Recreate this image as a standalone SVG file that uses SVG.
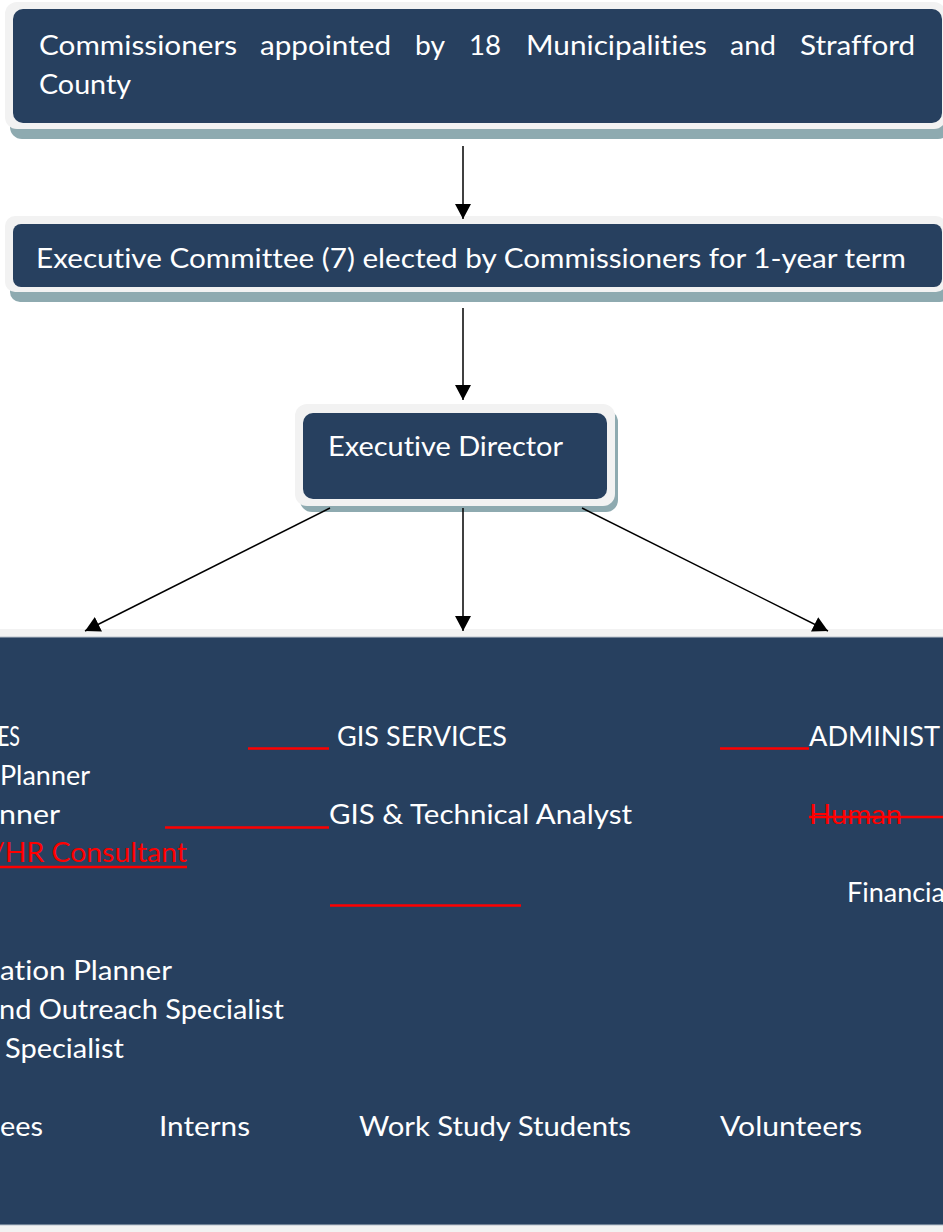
<svg xmlns="http://www.w3.org/2000/svg" width="943" height="1232" viewBox="0 0 943 1232">
<style>
.shadow{fill:#8eaab0}
.rim{fill:#f2f2f2}
.fill{fill:#27405f}
.t{font-family:Lato,"Open Sans","Liberation Sans",sans-serif;font-size:27px;fill:#ffffff;font-variant-ligatures:none}
.r{fill:#ff0000}
.redline{stroke:#ff0000;stroke-width:2.5;fill:none}
.conn{stroke:#000000;stroke-width:1.5;fill:none;marker-end:url(#arrow)}
</style>
<defs>
<marker id="arrow" markerUnits="userSpaceOnUse" markerWidth="15" markerHeight="16" refX="15" refY="8" orient="auto">
<path d="M0,0 L15,8 L0,16 z" fill="#000000"/>
</marker>
</defs>
<rect x="0" y="0" width="943" height="1232" fill="#ffffff"/>

<g id="commissioners">
<rect class="shadow" x="10" y="10" width="940" height="129" rx="12"/>
<rect class="rim" x="5" y="2" width="941" height="127" rx="12"/>
<rect class="fill" x="13" y="9" width="929" height="114" rx="10"/>
<text class="t" y="55"><tspan x="39" textLength="198" lengthAdjust="spacingAndGlyphs">Commissioners</tspan></text>
<text class="t" y="55"><tspan x="260" textLength="131" lengthAdjust="spacingAndGlyphs">appointed</tspan></text>
<text class="t" y="55"><tspan x="415" textLength="30" lengthAdjust="spacingAndGlyphs">by</tspan></text>
<text class="t" y="55"><tspan x="469" textLength="32" lengthAdjust="spacingAndGlyphs">18</tspan></text>
<text class="t" y="55"><tspan x="526" textLength="181" lengthAdjust="spacingAndGlyphs">Municipalities</tspan></text>
<text class="t" y="55"><tspan x="730" textLength="46" lengthAdjust="spacingAndGlyphs">and</tspan></text>
<text class="t" y="55"><tspan x="800" textLength="115" lengthAdjust="spacingAndGlyphs">Strafford</tspan></text>
<text class="t" x="39" y="94" textLength="92" lengthAdjust="spacingAndGlyphs">County</text>
</g>

<g id="executive-committee">
<rect class="shadow" x="10" y="222" width="940" height="80" rx="10"/>
<rect class="rim" x="5" y="216" width="941" height="76" rx="10"/>
<rect class="fill" x="13" y="224" width="929" height="63" rx="8"/>
<text class="t" x="36" y="268" textLength="870" lengthAdjust="spacingAndGlyphs">Executive Committee (7) elected by Commissioners for 1-year term</text>
</g>

<g id="executive-director">
<rect class="shadow" x="300" y="410" width="318" height="102" rx="12"/>
<rect class="rim" x="295" y="404" width="320" height="102" rx="12"/>
<rect class="fill" x="303" y="413" width="304" height="86" rx="10"/>
<text class="t" x="328" y="456" textLength="235" lengthAdjust="spacingAndGlyphs">Executive Director</text>
</g>

<g id="staff">
<rect class="rim" x="-10" y="629" width="963" height="610"/>
<rect class="fill" x="-10" y="637" width="963" height="588" stroke="#b9c2cc" stroke-width="1"/>
<text class="t" x="-2" y="746" textLength="22" lengthAdjust="spacingAndGlyphs">ES</text>
<line class="redline" x1="248" y1="748.5" x2="329" y2="748.5"/>
<text class="t" x="337" y="746" textLength="170" lengthAdjust="spacingAndGlyphs">GIS SERVICES</text>
<line class="redline" x1="720" y1="748.5" x2="809" y2="748.5"/>
<text class="t" x="809" y="746" textLength="131" lengthAdjust="spacingAndGlyphs">ADMINIST</text>
<text class="t" x="0" y="785" textLength="90" lengthAdjust="spacingAndGlyphs">Planner</text>
<text class="t" x="-1" y="824" textLength="61" lengthAdjust="spacingAndGlyphs">nner</text>
<line class="redline" x1="165" y1="827.5" x2="329" y2="827.5"/>
<text class="t" x="329" y="824" textLength="303" lengthAdjust="spacingAndGlyphs">GIS &amp; Technical Analyst</text>
<text class="t r" x="809" y="824" textLength="93" lengthAdjust="spacingAndGlyphs">Human</text>
<line class="redline" x1="809" y1="817" x2="943" y2="817"/>
<text class="t r" x="-8" y="862" textLength="195" lengthAdjust="spacingAndGlyphs">/HR Consultant</text>
<line class="redline" x1="0" y1="867" x2="187" y2="867"/>
<line class="redline" x1="330" y1="905.5" x2="521" y2="905.5"/>
<text class="t" x="847" y="902" textLength="98" lengthAdjust="spacingAndGlyphs">Financia</text>
<text class="t" x="0" y="980" textLength="172" lengthAdjust="spacingAndGlyphs">ation Planner</text>
<text class="t" x="-1" y="1019" textLength="285" lengthAdjust="spacingAndGlyphs">nd Outreach Specialist</text>
<text class="t" x="5" y="1058" textLength="119" lengthAdjust="spacingAndGlyphs">Specialist</text>
<text class="t" x="0" y="1136" textLength="43" lengthAdjust="spacingAndGlyphs">ees</text>
<text class="t" x="159" y="1136" textLength="91" lengthAdjust="spacingAndGlyphs">Interns</text>
<text class="t" x="359" y="1136" textLength="272" lengthAdjust="spacingAndGlyphs">Work Study Students</text>
<text class="t" x="720" y="1136" textLength="142" lengthAdjust="spacingAndGlyphs">Volunteers</text>
</g>

<g id="connectors">
<line class="conn" x1="463" y1="146" x2="463" y2="219"/>
<line class="conn" x1="463" y1="308" x2="463" y2="400"/>
<line class="conn" x1="330" y1="508" x2="85" y2="631"/>
<line class="conn" x1="463" y1="508" x2="463" y2="631"/>
<line class="conn" x1="582" y1="508" x2="828" y2="631"/>
</g>
</svg>
